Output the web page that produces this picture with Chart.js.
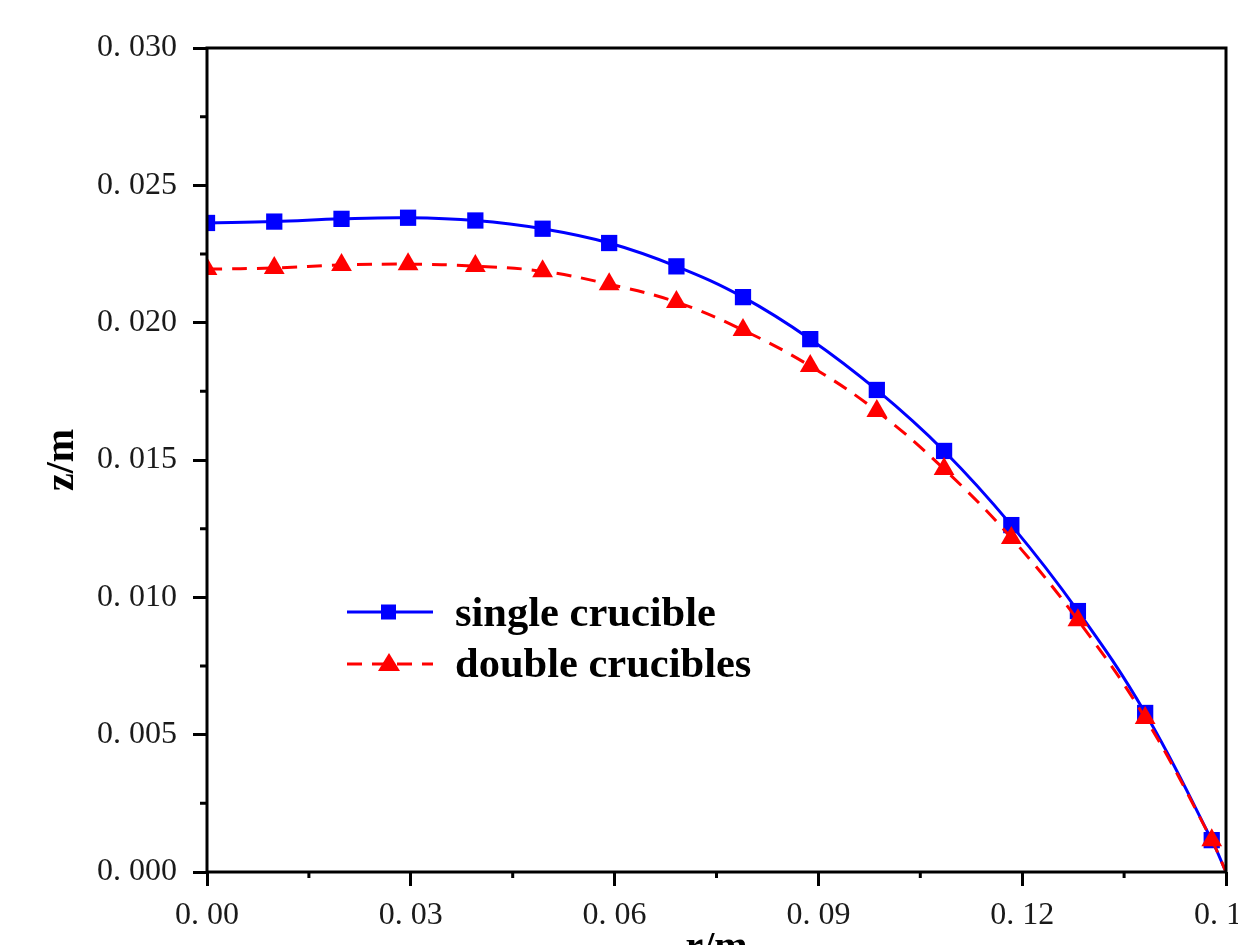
<!DOCTYPE html>
<html>
<head>
<meta charset="utf-8">
<script src="https://cdn.jsdelivr.net/npm/chart.js@4.4.1/dist/chart.umd.min.js"></script>
<style>
  html, body { margin: 0; padding: 0; background: #fff; overflow: hidden; }
  #wrap { position: absolute; left: 0; top: 0; width: 1280px; height: 977px; }
</style>
</head>
<body>
<div id="wrap"><canvas id="profile-chart" width="1280" height="977"></canvas></div>
<script>
const radius = [0, 0.0099, 0.0198, 0.0296, 0.0395, 0.0494, 0.0592, 0.0691, 0.0789, 0.0888, 0.0986, 0.1085, 0.1184, 0.1282, 0.1381, 0.1479, 0.15];
const singleCrucible = [0.02363, 0.02368, 0.02378, 0.02382, 0.02372, 0.02342, 0.0229, 0.02205, 0.02093, 0.0194, 0.01755, 0.01533, 0.01263, 0.0095, 0.00579, 0.00116, 0];
const doubleCrucibles = [0.02195, 0.02199, 0.0221, 0.02213, 0.02206, 0.02187, 0.0214, 0.02075, 0.01973, 0.01842, 0.01678, 0.01467, 0.01216, 0.00917, 0.00561, 0.00116, 0];

const xTicks = [0, 0.03, 0.06, 0.09, 0.12, 0.15];
const xMinorTicks = [0.015, 0.045, 0.075, 0.105, 0.135];
const yTicks = [0, 0.005, 0.01, 0.015, 0.02, 0.025, 0.03];
const yMinorTicks = [0.0025, 0.0075, 0.0125, 0.0175, 0.0225, 0.0275];
const seriesNames = ['single crucible', 'double crucibles'];

const blue = '#0000ff';
const red = '#ff0000';
const tickFont = { family: '"Liberation Serif", "DejaVu Serif", serif', size: 32 };
const titleFont = { family: '"Liberation Serif", serif', size: 40, weight: 'bold' };

const toPoints = ys => radius.map((r, i) => ({ x: r, y: ys[i] }));
// last point is just where the curve meets the axis, no marker
const markerSize = (size) => radius.map((r, i) => (i === radius.length - 1 ? 0 : size));
const spaced = (v, digits) => v.toFixed(digits).replace('.', '. ');

// frame, minor ticks and the in-plot legend
const framePlugin = {
  id: 'frame',
  afterDraw(chart) {
    const { ctx, chartArea: a, scales } = chart;
    ctx.save();
    ctx.strokeStyle = '#000';
    ctx.lineWidth = 3;

    ctx.beginPath();
    xMinorTicks.forEach(v => {
      const px = scales.x.getPixelForValue(v);
      ctx.moveTo(px, a.bottom);
      ctx.lineTo(px, a.bottom + 6);
    });
    yMinorTicks.forEach(v => {
      const py = scales.y.getPixelForValue(v);
      ctx.moveTo(a.left - 7, py);
      ctx.lineTo(a.left, py);
    });
    ctx.stroke();

    ctx.strokeRect(a.left, a.top, a.right - a.left, a.bottom - a.top);

    // legend
    const rows = [
      { name: seriesNames[0], color: blue, dash: [], y: 612, base: 626, marker: 'rect' },
      { name: seriesNames[1], color: red, dash: [15, 10], y: 664, base: 677, marker: 'triangle' }
    ];
    rows.forEach(row => {
      ctx.strokeStyle = row.color;
      ctx.fillStyle = row.color;
      ctx.lineWidth = 3;
      ctx.setLineDash(row.dash);
      ctx.beginPath();
      ctx.moveTo(347, row.y);
      ctx.lineTo(433, row.y);
      ctx.stroke();
      ctx.setLineDash([]);
      if (row.marker === 'rect') {
        ctx.fillRect(381, row.y - 7.5, 15, 15);
      } else {
        ctx.beginPath();
        ctx.moveTo(389, row.y - 11);
        ctx.lineTo(400, row.y + 7);
        ctx.lineTo(378, row.y + 7);
        ctx.closePath();
        ctx.fill();
      }
      ctx.fillStyle = '#000';
      ctx.font = 'bold 42.5px "Liberation Serif", serif';
      ctx.textBaseline = 'alphabetic';
      ctx.textAlign = 'left';
      ctx.fillText(row.name, 455, row.base);
    });
    ctx.restore();
  }
};

const ctx = document.getElementById('profile-chart').getContext('2d');

const profileChart = new Chart(ctx, {
  type: 'scatter',
  data: {
    datasets: [
      {
        label: seriesNames[0],
        data: toPoints(singleCrucible),
        showLine: true,
        tension: 0.4,
        borderColor: blue,
        backgroundColor: blue,
        borderWidth: 3,
        pointStyle: 'rect',
        pointRadius: markerSize(11.5),
        pointBorderWidth: 0,
        order: 2
      },
      {
        label: seriesNames[1],
        data: toPoints(doubleCrucibles),
        showLine: true,
        tension: 0.4,
        borderColor: red,
        backgroundColor: red,
        borderWidth: 3,
        borderDash: [15, 10],
        pointStyle: 'triangle',
        pointRadius: markerSize(12),
        pointBorderWidth: 0,
        order: 1
      }
    ]
  },
  options: {
    responsive: false,
    animation: false,
    devicePixelRatio: 1,
    layout: { padding: { top: 48, left: 0, right: 54, bottom: 0 } },
    plugins: {
      legend: { display: false },
      tooltip: { enabled: false }
    },
    scales: {
      x: {
        type: 'linear',
        min: 0,
        max: 0.15,
        afterBuildTicks: axis => { axis.ticks = xTicks.map(v => ({ value: v })); },
        afterFit: axis => { axis.height = 105; axis.paddingLeft = 0; axis.paddingRight = 0; },
        border: { display: false },
        grid: { drawOnChartArea: false, drawTicks: true, tickLength: 14, tickWidth: 3, tickColor: '#000' },
        ticks: {
          padding: 10,
          color: '#1a1a1a',
          font: tickFont,
          maxRotation: 0,
          callback: v => spaced(v, 2)
        },
        title: { display: true, text: 'r/m', color: '#000', font: titleFont, padding: { top: 4, bottom: 4 } }
      },
      y: {
        type: 'linear',
        min: 0,
        max: 0.03,
        afterBuildTicks: axis => { axis.ticks = yTicks.map(v => ({ value: v })); },
        afterFit: axis => { axis.width = 207; axis.paddingTop = 0; axis.paddingBottom = 0; },
        border: { display: false },
        grid: { drawOnChartArea: false, drawTicks: true, tickLength: 14, tickWidth: 3, tickColor: '#000' },
        ticks: {
          padding: 16,
          color: '#1a1a1a',
          font: tickFont,
          callback: v => spaced(v, 3)
        },
        title: { display: true, text: 'z/m', color: '#000', font: titleFont, padding: { top: 39, bottom: 4 } }
      }
    }
  },
  plugins: [framePlugin]
});
</script>
</body>
</html>
